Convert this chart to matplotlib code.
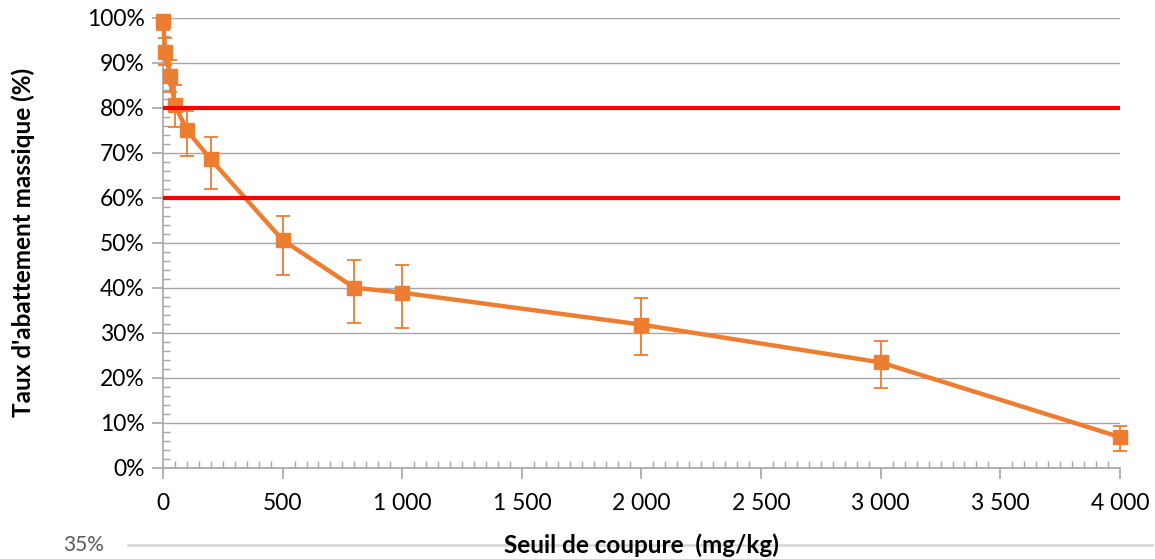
import matplotlib.pyplot as plt
from matplotlib.ticker import MultipleLocator, FuncFormatter
from matplotlib.lines import Line2D

plt.rcParams['font.family'] = ['Lato', 'DejaVu Sans']

# Seuil de coupure (mg/kg) et taux d'abattement massique (%)
seuil = [0, 10, 30, 50, 100, 200, 500, 800, 1000, 2000, 3000, 4000]
taux = [99.2, 92.4, 87.0, 80.6, 75.0, 68.5, 50.6, 40.0, 38.9, 31.8, 23.4, 6.8]
err_bas = [2.0, 3.0, 3.5, 4.8, 5.7, 6.6, 7.7, 7.9, 7.9, 6.7, 5.6, 3.0]
err_haut = [0.8, 3.0, 3.6, 4.4, 4.3, 5.1, 5.3, 6.1, 6.2, 5.9, 4.7, 2.4]

# Limites de l'objectif
limites = [80, 60]

orange = '#ED7D31'
gris = '#A6A6A6'

fig = plt.figure(figsize=(11.55, 5.59), dpi=100)
ax = fig.add_axes([0.1411, 0.1633, 0.8286, 0.805])

ax.yaxis.grid(True, color=gris, linewidth=1.0, zorder=0)
ax.set_axisbelow(True)

ax.errorbar(seuil, taux, yerr=[err_bas, err_haut], color=orange, linewidth=3.2,
            marker='s', markersize=9.5, ecolor=orange, elinewidth=1.3, capsize=5,
            capthick=1.3, zorder=3, clip_on=False)

for lim in limites:
    ax.axhline(lim, color='#FF0000', linewidth=3.0, zorder=4)

ax.set_xlim(0, 4000)
ax.set_ylim(0, 100)
ax.xaxis.set_major_locator(MultipleLocator(500))
ax.xaxis.set_minor_locator(MultipleLocator(50))
ax.yaxis.set_major_locator(MultipleLocator(10))
ax.yaxis.set_minor_locator(MultipleLocator(2))
ax.xaxis.set_major_formatter(FuncFormatter(lambda v, p: f"{int(v):,}".replace(",", " ")))
ax.yaxis.set_major_formatter(FuncFormatter(lambda v, p: f"{int(v)}%"))

for s in ['top', 'right']:
    ax.spines[s].set_visible(False)
for s in ['left', 'bottom']:
    ax.spines[s].set_color(gris)
    ax.spines[s].set_linewidth(1.2)

ax.tick_params(which='major', direction='out', length=8, color=gris, width=1.2,
               labelsize=16.5, labelcolor='black', pad=5)
ax.tick_params(which='minor', direction='in', length=5, color=gris, width=1.0)
ax.tick_params(axis='x', which='major', pad=10)

ax.set_ylabel("Taux d'abattement massique (%)", fontsize=17.5, fontweight='bold')
ax.yaxis.set_label_coords(-0.134, 0.5)

# Trait et étiquette du graphique suivant
fig.add_artist(Line2D([128 / 1155, 1152 / 1155], [1 - 545 / 559, 1 - 545 / 559],
                      color='#D9D9D9', linewidth=2.0, transform=fig.transFigure))
fig.text(63 / 1155, 1 - 545 / 559, "35%", fontsize=15, color='#595959', va='center')
fig.text(0.5555, 1 - 545 / 559, "Seuil de coupure  (mg/kg)", fontsize=17.5,
         fontweight='bold', ha='center', va='center')

fig.savefig('out.png', dpi=100)
